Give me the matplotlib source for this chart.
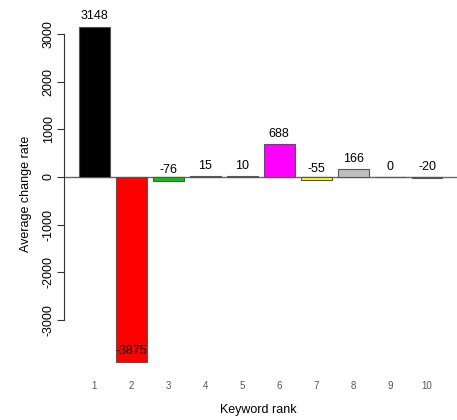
import numpy as np
import matplotlib.pyplot as plt

plt.rcParams['font.family'] = ['Liberation Sans', 'DejaVu Sans']

ranks = [str(i) for i in range(1, 11)]
change_rate = [3148, -3875, -76, 15, 10, 688, -55, 166, 0, -20]
bar_colors = ["#000000", "#FF0000", "#00CD00", "#0000FF", "#00FFFF",
              "#FF00FF", "#FFFF00", "#BEBEBE", "#000000", "#FF0000"]
y_ticks = [-3000, -2000, -1000, 0, 1000, 2000, 3000]

fig = plt.figure(figsize=(4.57, 4.2), dpi=100)
ax = fig.add_axes([0.141, 0.107, 0.859, 0.861])

# R barplot layout: width 1, space 0.2
centers = 0.2 + 1.2 * np.arange(len(change_rate)) + 0.5
ax.axhline(0, color="#666666", lw=1, zorder=1)
ax.bar(centers, change_rate, width=1.0, color=bar_colors,
       edgecolor="#555555", linewidth=0.8, zorder=2)

for x, v in zip(centers, change_rate):
    ax.annotate(str(v), (x, v), xytext=(0, 7.5), textcoords="offset points",
                ha="center", va="center", fontsize=9, color="black", zorder=3)

ax.set_xlim(-0.272, 12.472)
ax.set_ylim(-4156, 3429)

for s in ["top", "right", "bottom"]:
    ax.spines[s].set_visible(False)
ax.spines["left"].set_bounds(-3000, 3000)
ax.spines["left"].set_color("#333333")
ax.set_yticks(y_ticks)
ax.set_yticklabels([str(t) for t in y_ticks], rotation=90, va="center", fontsize=9)
ax.tick_params(axis="y", length=5, pad=2, color="#333333")

ax.set_xticks(centers)
ax.set_xticklabels(ranks, fontsize=7, color="#555555")
ax.tick_params(axis="x", length=0, pad=4)

fig.text((ax.get_position().x0 + ax.get_position().x1) / 2 - 0.005, 1 - 410 / 420,
         "Keyword rank", fontsize=9, ha="center", va="center")
ax.set_ylabel("Average change rate", fontsize=9, labelpad=8)

fig.savefig("out.png", dpi=100)
